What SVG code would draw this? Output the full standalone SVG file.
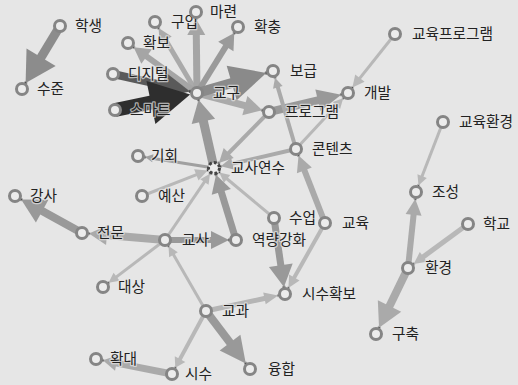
<svg xmlns="http://www.w3.org/2000/svg" width="518" height="385" viewBox="0 0 518 385">
<style>
.bg{fill:#e6e6e6}
.e path.l{fill:none;stroke-linecap:butt}
.e path.h{stroke:none}
.tip{fill:#333}
.n circle{fill:#ececec;stroke:#858585;stroke-width:3}
.n text{font-family:"Noto Sans CJK KR","Noto Sans",sans-serif;font-size:14.7px;fill:#222;stroke:#e6e6e6;stroke-width:2.5;stroke-opacity:0.7;paint-order:stroke;stroke-linejoin:round}
</style>
<rect class="bg" x="0" y="0" width="518" height="385"/>
<g id="edges" class="e">
<g transform="translate(60 26) rotate(121.1)" stroke="#8c8c8c" fill="#8c8c8c"><path class="l" d="M0 0H37.6" stroke-width="9"/><path class="h" d="M36.6 -17L66.6 0L36.6 17Z"/><circle class="tip" cx="66.6" r="1.3"/></g>
<g transform="translate(197 93) rotate(-120.6)" stroke="#aaaaaa" fill="#aaaaaa"><path class="l" d="M0 0H62.5" stroke-width="5"/><path class="h" d="M61.5 -7L75.5 0L61.5 7Z"/><circle class="tip" cx="75.5" r="1.2"/></g>
<g transform="translate(197 93) rotate(-90.7)" stroke="#a5a5a5" fill="#a5a5a5"><path class="l" d="M0 0H59" stroke-width="7"/><path class="h" d="M58 -9L74 0L58 9Z"/><circle class="tip" cx="74" r="1.2"/></g>
<g transform="translate(197 93) rotate(-58.2)" stroke="#9a9a9a" fill="#9a9a9a"><path class="l" d="M0 0H55.7" stroke-width="6"/><path class="h" d="M54.7 -9L70.7 0L54.7 9Z"/><circle class="tip" cx="70.7" r="1.2"/></g>
<g transform="translate(197 93) rotate(-144.1)" stroke="#a5a5a5" fill="#a5a5a5"><path class="l" d="M0 0H63.2" stroke-width="6"/><path class="h" d="M62.2 -9L78.2 0L62.2 9Z"/><circle class="tip" cx="78.2" r="1.2"/></g>
<g transform="translate(197 93) rotate(14.8)" stroke="#aaaaaa" fill="#aaaaaa"><path class="l" d="M0 0H50.5" stroke-width="7"/><path class="h" d="M49.5 -10L67.5 0L49.5 10Z"/><circle class="tip" cx="67.5" r="1.2"/></g>
<g transform="translate(197 93) rotate(-16.1)" stroke="#8a8a8a" fill="#8a8a8a"><path class="l" d="M0 0H37.1" stroke-width="10"/><path class="h" d="M36.1 -18L72.1 0L36.1 18Z"/><circle class="tip" cx="72.1" r="1.3"/></g>
<g transform="translate(269 112) rotate(-13.5)" stroke="#999999" fill="#999999"><path class="l" d="M0 0H51.3" stroke-width="8"/><path class="h" d="M50.3 -11L74.3 0L50.3 11Z"/><circle class="tip" cx="74.3" r="1.2"/></g>
<g transform="translate(395 34) rotate(128.5)" stroke="#b8b8b8" fill="#b8b8b8"><path class="l" d="M0 0H57.4" stroke-width="3"/><path class="h" d="M56.4 -6L68.4 0L56.4 6Z"/><circle class="tip" cx="68.4" r="1.1"/></g>
<g transform="translate(296 149) rotate(-47.1)" stroke="#b8b8b8" fill="#b8b8b8"><path class="l" d="M0 0H60.4" stroke-width="3"/><path class="h" d="M59.4 -5L69.4 0L59.4 5Z"/><circle class="tip" cx="69.4" r="1.1"/></g>
<g transform="translate(296 149) rotate(-106.4)" stroke="#aaaaaa" fill="#aaaaaa"><path class="l" d="M0 0H65.3" stroke-width="4"/><path class="h" d="M64.3 -5L74.3 0L64.3 5Z"/><circle class="tip" cx="74.3" r="1.1"/></g>
<g transform="translate(269 112) rotate(134.5)" stroke="#aaaaaa" fill="#aaaaaa"><path class="l" d="M0 0H58.5" stroke-width="4"/><path class="h" d="M57.5 -7L71.5 0L57.5 7Z"/><circle class="tip" cx="71.5" r="1.1"/></g>
<g transform="translate(296 149) rotate(167)" stroke="#aaaaaa" fill="#aaaaaa"><path class="l" d="M0 0H66.2" stroke-width="4"/><path class="h" d="M65.2 -6L77.2 0L65.2 6Z"/><circle class="tip" cx="77.2" r="1.1"/></g>
<g transform="translate(214 168) rotate(-171)" stroke="#a0a0a0" fill="#a0a0a0"><path class="l" d="M0 0H62.9" stroke-width="3"/><path class="h" d="M61.9 -4L69.9 0L61.9 4Z"/><circle class="tip" cx="69.9" r="1.1"/></g>
<g transform="translate(142 196) rotate(-21.3)" stroke="#b8b8b8" fill="#b8b8b8"><path class="l" d="M0 0H59.3" stroke-width="3"/><path class="h" d="M58.3 -6L70.3 0L58.3 6Z"/><circle class="tip" cx="70.3" r="1.1"/></g>
<g transform="translate(165 240) rotate(-55.8)" stroke="#b8b8b8" fill="#b8b8b8"><path class="l" d="M0 0H71.1" stroke-width="3"/><path class="h" d="M70.1 -5L80.1 0L70.1 5Z"/><circle class="tip" cx="80.1" r="1.1"/></g>
<g transform="translate(274 218) rotate(-140.2)" stroke="#b8b8b8" fill="#b8b8b8"><path class="l" d="M0 0H62.1" stroke-width="3"/><path class="h" d="M61.1 -5L71.1 0L61.1 5Z"/><circle class="tip" cx="71.1" r="1.1"/></g>
<g transform="translate(236 240) rotate(-107)" stroke="#999999" fill="#999999"><path class="l" d="M0 0H51.3" stroke-width="7"/><path class="h" d="M50.3 -10L68.3 0L50.3 10Z"/><circle class="tip" cx="68.3" r="1.2"/></g>
<g transform="translate(214 168) rotate(-102.8)" stroke="#999999" fill="#999999"><path class="l" d="M0 0H48.9" stroke-width="9"/><path class="h" d="M47.9 -12L69.9 0L47.9 12Z"/><circle class="tip" cx="69.9" r="1.2"/></g>
<g transform="translate(82 233) rotate(-151.1)" stroke="#999999" fill="#999999"><path class="l" d="M0 0H46.5" stroke-width="8"/><path class="h" d="M45.5 -13L69.5 0L45.5 13Z"/><circle class="tip" cx="69.5" r="1.2"/></g>
<g transform="translate(165 240) rotate(-175.2)" stroke="#aaaaaa" fill="#aaaaaa"><path class="l" d="M0 0H59.3" stroke-width="8"/><path class="h" d="M58.3 -10L76.3 0L58.3 10Z"/><circle class="tip" cx="76.3" r="1.2"/></g>
<g transform="translate(165 240)" stroke="#999999" fill="#999999"><path class="l" d="M0 0H47" stroke-width="6"/><path class="h" d="M46 -9L64 0L46 9Z"/><circle class="tip" cx="64" r="1.2"/></g>
<g transform="translate(165 240) rotate(142.8)" stroke="#b8b8b8" fill="#b8b8b8"><path class="l" d="M0 0H61.8" stroke-width="3"/><path class="h" d="M60.8 -5L70.8 0L60.8 5Z"/><circle class="tip" cx="70.8" r="1.1"/></g>
<g transform="translate(206 311) rotate(-120)" stroke="#b8b8b8" fill="#b8b8b8"><path class="l" d="M0 0H66" stroke-width="3"/><path class="h" d="M65 -5L75 0L65 5Z"/><circle class="tip" cx="75" r="1.1"/></g>
<g transform="translate(206 311) rotate(-12.1)" stroke="#b5b5b5" fill="#b5b5b5"><path class="l" d="M0 0H60.8" stroke-width="5"/><path class="h" d="M59.8 -6L73.8 0L59.8 6Z"/><circle class="tip" cx="73.8" r="1.1"/></g>
<g transform="translate(206 311) rotate(52.8)" stroke="#999999" fill="#999999"><path class="l" d="M0 0H40.8" stroke-width="8"/><path class="h" d="M39.8 -13L65.8 0L39.8 13Z"/><circle class="tip" cx="65.8" r="1.2"/></g>
<g transform="translate(206 311) rotate(118.4)" stroke="#b8b8b8" fill="#b8b8b8"><path class="l" d="M0 0H55.6" stroke-width="4"/><path class="h" d="M54.6 -6L64.6 0L54.6 6Z"/><circle class="tip" cx="64.6" r="1.1"/></g>
<g transform="translate(172 374) rotate(-168.8)" stroke="#aaaaaa" fill="#aaaaaa"><path class="l" d="M0 0H57.5" stroke-width="7"/><path class="h" d="M56.5 -8L70.5 0L56.5 8Z"/><circle class="tip" cx="70.5" r="1.2"/></g>
<g transform="translate(274 218) rotate(81.8)" stroke="#999999" fill="#999999"><path class="l" d="M0 0H48.8" stroke-width="7"/><path class="h" d="M47.8 -12L69.8 0L47.8 12Z"/><circle class="tip" cx="69.8" r="1.2"/></g>
<g transform="translate(325 223) rotate(119.4)" stroke="#b8b8b8" fill="#b8b8b8"><path class="l" d="M0 0H63.5" stroke-width="4"/><path class="h" d="M62.5 -6L74.5 0L62.5 6Z"/><circle class="tip" cx="74.5" r="1.1"/></g>
<g transform="translate(325 223) rotate(-111.4)" stroke="#aaaaaa" fill="#aaaaaa"><path class="l" d="M0 0H57.5" stroke-width="6"/><path class="h" d="M56.5 -8L72.5 0L56.5 8Z"/><circle class="tip" cx="72.5" r="1.2"/></g>
<g transform="translate(443 122) rotate(111.1)" stroke="#b8b8b8" fill="#b8b8b8"><path class="l" d="M0 0H59" stroke-width="3"/><path class="h" d="M58 -5L68 0L58 5Z"/><circle class="tip" cx="68" r="1.1"/></g>
<g transform="translate(408 268) rotate(-84)" stroke="#aaaaaa" fill="#aaaaaa"><path class="l" d="M0 0H54.4" stroke-width="6"/><path class="h" d="M53.4 -8L69.4 0L53.4 8Z"/><circle class="tip" cx="69.4" r="1.2"/></g>
<g transform="translate(468 224) rotate(143.7)" stroke="#b8b8b8" fill="#b8b8b8"><path class="l" d="M0 0H56.4" stroke-width="5"/><path class="h" d="M55.4 -6L67.4 0L55.4 6Z"/><circle class="tip" cx="67.4" r="1.1"/></g>
<g transform="translate(408 268) rotate(115.9)" stroke="#aaaaaa" fill="#aaaaaa"><path class="l" d="M0 0H43.3" stroke-width="8"/><path class="h" d="M42.3 -13L66.3 0L42.3 13Z"/><circle class="tip" cx="66.3" r="1.2"/></g>
<g transform="translate(113 74) rotate(12.7)" stroke="#5a5a5a" fill="#5a5a5a"><path class="l" d="M0 0H52.1" stroke-width="8"/><path class="h" d="M51.1 -13L79.1 0L51.1 13Z"/><circle class="tip" cx="79.1" r="1.2"/></g>
<g transform="translate(115 110) rotate(-11.7)" stroke="#2e2e2e" fill="#2e2e2e"><path class="l" d="M0 0H37.7" stroke-width="14"/><path class="h" d="M36.7 -22L76.7 0L36.7 22Z"/></g>
</g>
<g id="n-haksaeng" class="n"><circle cx="60" cy="26" r="5.5"/><text x="75" y="31">학생</text></g>
<g id="n-sujun" class="n"><circle cx="22" cy="89" r="5.5"/><text x="37" y="94">수준</text></g>
<g id="n-guip" class="n"><circle cx="155" cy="22" r="5.5"/><text x="171" y="27">구입</text></g>
<g id="n-maryeon" class="n"><circle cx="196" cy="12" r="5.5"/><text x="210" y="17">마련</text></g>
<g id="n-hwakchung" class="n"><circle cx="238" cy="27" r="5.5"/><text x="254" y="32">확충</text></g>
<g id="n-hwakbo" class="n"><circle cx="128" cy="43" r="5.5"/><text x="143" y="48">확보</text></g>
<g id="n-digital" class="n"><circle cx="113" cy="74" r="5.5"/><text x="128" y="79">디지털</text></g>
<g id="n-smart" class="n"><circle cx="115" cy="110" r="5.5"/><text x="130" y="115">스마트</text></g>
<g id="n-gyogu" class="n"><circle cx="197" cy="93" r="5.5"/><text x="213" y="98">교구</text></g>
<g id="n-bogeup" class="n"><circle cx="273" cy="71" r="5.5"/><text x="290" y="76">보급</text></g>
<g id="n-program" class="n"><circle cx="269" cy="112" r="5.5"/><text x="285" y="117">프로그램</text></g>
<g id="n-gaebal" class="n"><circle cx="348" cy="93" r="5.5"/><text x="364" y="98">개발</text></g>
<g id="n-edu-program" class="n"><circle cx="395" cy="34" r="5.5"/><text x="412" y="39">교육프로그램</text></g>
<g id="n-edu-env" class="n"><circle cx="443" cy="122" r="5.5"/><text x="459" y="127">교육환경</text></g>
<g id="n-contents" class="n"><circle cx="296" cy="149" r="5.5"/><text x="312" y="154">콘텐츠</text></g>
<g id="n-training" class="n"><circle cx="214" cy="168" r="5.5" style="stroke:#444;stroke-dasharray:3 2"/><text x="231" y="173">교사연수</text></g>
<g id="n-gihoe" class="n"><circle cx="138" cy="156" r="5.5"/><text x="151" y="161">기회</text></g>
<g id="n-yesan" class="n"><circle cx="142" cy="196" r="5.5"/><text x="158" y="201">예산</text></g>
<g id="n-gangsa" class="n"><circle cx="15" cy="196" r="5.5"/><text x="30" y="201">강사</text></g>
<g id="n-jeonmun" class="n"><circle cx="82" cy="233" r="5.5"/><text x="97" y="238">전문</text></g>
<g id="n-gyosa" class="n"><circle cx="165" cy="240" r="5.5"/><text x="182" y="245">교사</text></g>
<g id="n-capacity" class="n"><circle cx="236" cy="240" r="5.5"/><text x="252" y="245">역량강화</text></g>
<g id="n-sueop" class="n"><circle cx="274" cy="218" r="5.5"/><text x="289" y="223">수업</text></g>
<g id="n-gyoyuk" class="n"><circle cx="325" cy="223" r="5.5"/><text x="342" y="228">교육</text></g>
<g id="n-sisu-hwakbo" class="n"><circle cx="285" cy="294" r="5.5"/><text x="302" y="299">시수확보</text></g>
<g id="n-daesang" class="n"><circle cx="103" cy="287" r="5.5"/><text x="118" y="292">대상</text></g>
<g id="n-gyogwa" class="n"><circle cx="206" cy="311" r="5.5"/><text x="222" y="316">교과</text></g>
<g id="n-yunghap" class="n"><circle cx="250" cy="369" r="5.5"/><text x="268" y="374">융합</text></g>
<g id="n-sisu" class="n"><circle cx="172" cy="374" r="5.5"/><text x="185" y="379">시수</text></g>
<g id="n-hwakdae" class="n"><circle cx="96" cy="359" r="5.5"/><text x="110" y="364">확대</text></g>
<g id="n-joseong" class="n"><circle cx="416" cy="192" r="5.5"/><text x="432" y="197">조성</text></g>
<g id="n-hakgyo" class="n"><circle cx="468" cy="224" r="5.5"/><text x="483" y="229">학교</text></g>
<g id="n-hwangyeong" class="n"><circle cx="408" cy="268" r="5.5"/><text x="425" y="273">환경</text></g>
<g id="n-guchuk" class="n"><circle cx="376" cy="334" r="5.5"/><text x="392" y="339">구축</text></g>
</svg>
